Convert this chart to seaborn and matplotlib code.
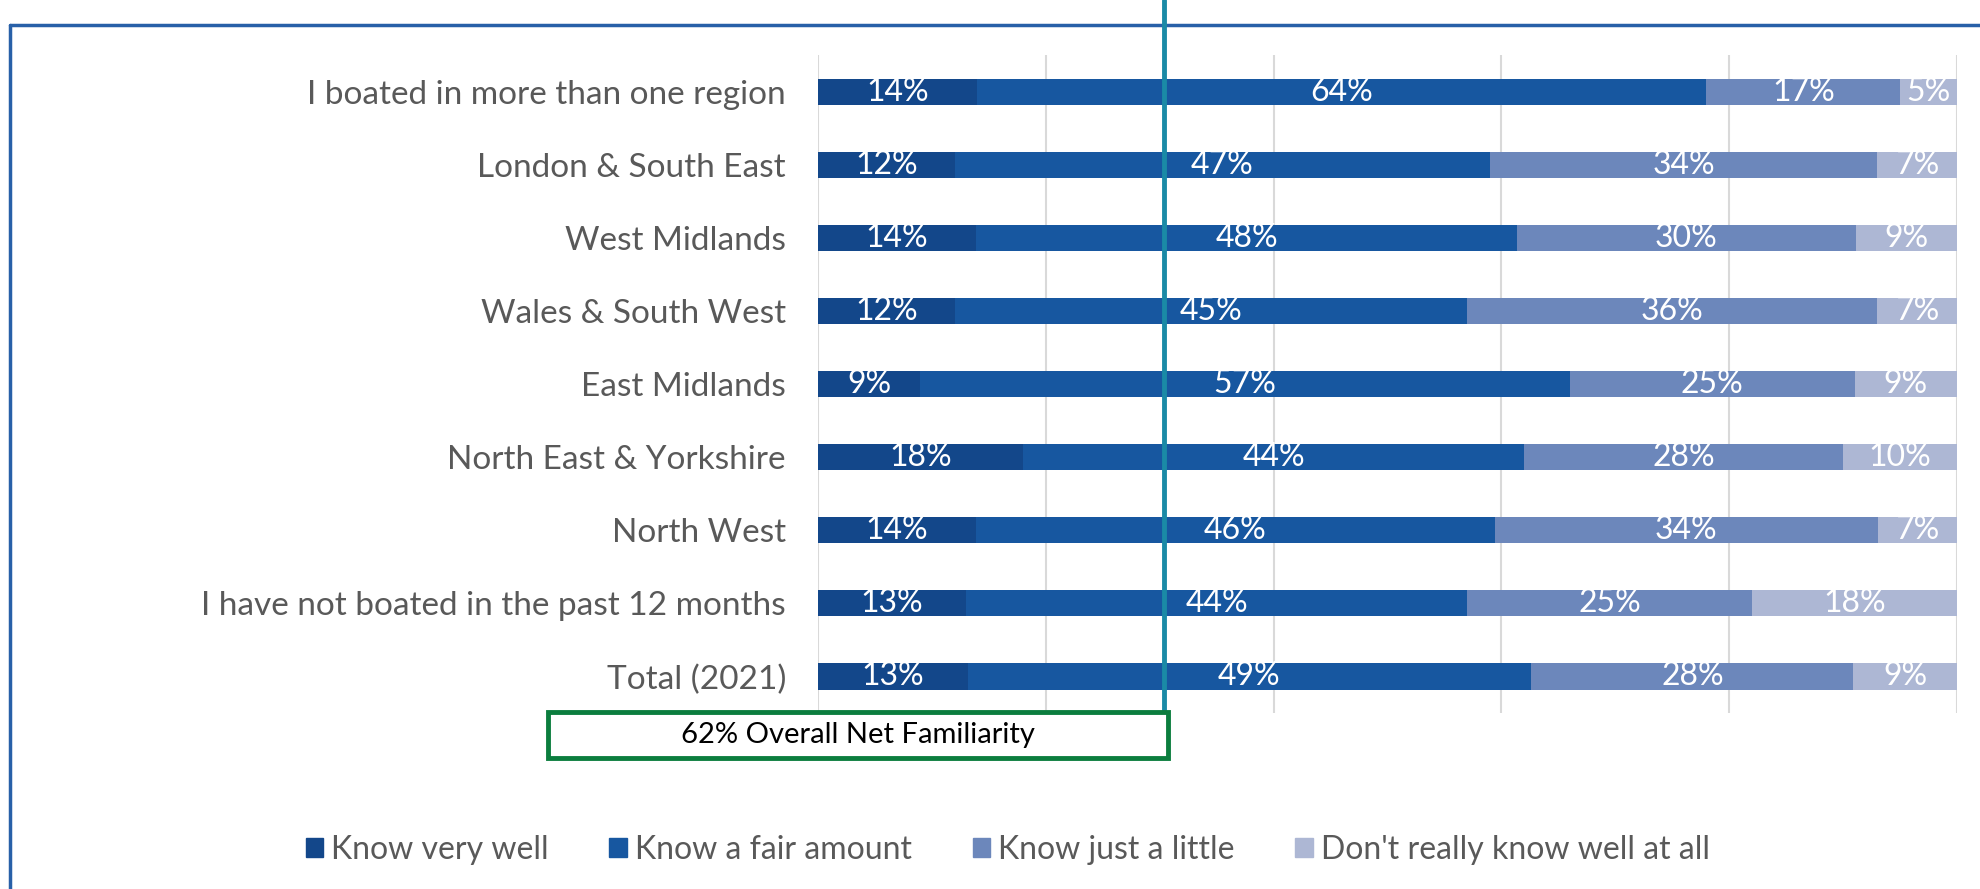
import numpy as np
import pandas as pd
import matplotlib
matplotlib.use("Agg")
import matplotlib.pyplot as plt
import seaborn as sns
from matplotlib.lines import Line2D
from matplotlib.patches import Rectangle

categories = [
    "I boated in more than one region",
    "London & South East",
    "West Midlands",
    "Wales & South West",
    "East Midlands",
    "North East & Yorkshire",
    "North West",
    "I have not boated in the past 12 months",
    "Total (2021)",
]
know_very_well = [14, 12, 14, 12, 9, 18, 14, 13, 13]
know_fair_amount = [64, 47, 48, 45, 57, 44, 46, 44, 49]
know_just_little = [17, 34, 30, 36, 25, 28, 34, 25, 28]
dont_know = [5, 7, 9, 7, 9, 10, 7, 18, 9]
series_names = ["Know very well", "Know a fair amount", "Know just a little",
                "Don't really know well at all"]
colors = ["#13478a", "#1757a0", "#6c87bb", "#adb7d4"]
net_familiarity_label = "62% Overall Net Familiarity"

sns.set_theme(style="white")
plt.rcParams['font.family'] = ['Lato', 'DejaVu Sans']

vals = np.array([know_very_well, know_fair_amount, know_just_little, dont_know], dtype=float)
norm = vals / vals.sum(axis=0) * 100
cum = np.cumsum(norm, axis=0)

fig = plt.figure(figsize=(19.8, 8.89), dpi=100)
ax = fig.add_axes([0.4131, 0.198, 0.5753, 0.740])

for i in range(3, -1, -1):
    df = pd.DataFrame({"cat": categories, "val": cum[i]})
    sns.barplot(data=df, x="val", y="cat", orient="h", color=colors[i],
                width=0.36, ax=ax, saturation=1, order=categories,
                edgecolor="none", linewidth=0, zorder=3)

for i in range(4):
    for j in range(len(categories)):
        left = cum[i][j] - norm[i][j]
        ax.text(left + norm[i][j] / 2, j, f"{int(vals[i][j])}%", ha="center",
                va="center", color="white", fontsize=23, zorder=5)

ax.set_xlim(0, 100)
ax.set_ylim(8.5, -0.5)
ax.set_xticks([0, 20, 40, 60, 80, 100])
ax.set_xticklabels([])
ax.grid(axis="x", color="#d9d9d9", linewidth=1.5, zorder=0)
ax.grid(axis="y", visible=False)
ax.set_axisbelow(True)
for s in ax.spines.values():
    s.set_visible(False)
ax.set_xlabel("")
ax.set_ylabel("")
ax.tick_params(axis="y", length=0, pad=23, labelsize=24, labelcolor="#595959")
ax.tick_params(axis="x", length=0)

# legend
handles = [Rectangle((0, 0), 1, 1, color=c) for c in colors]
fig.legend(handles, series_names, loc="center", bbox_to_anchor=(0.509, 0.044),
           ncol=4, frameon=False, fontsize=23, labelcolor="#595959",
           handlelength=0.55, handleheight=0.55, handletextpad=0.25, columnspacing=1.9)

# frame lines
fig.add_artist(Line2D([0.005, 1.0], [0.972, 0.972], color="#2860a8", lw=2.5))
fig.add_artist(Line2D([0.005, 0.005], [0.972, 0.0], color="#2860a8", lw=2.5))

# teal marker line
xline = 0.4131 + 0.304 * 0.5753
fig.add_artist(Line2D([xline, xline], [1.0, 0.199], color="#1a8aa6", lw=3.5, zorder=10))

# net familiarity box
fig.add_artist(Rectangle((0.2768, 0.1474), 0.5899 - 0.2768, 0.199 - 0.1474,
                         facecolor="white", edgecolor="#0b7d3e", lw=3.5, zorder=11))
fig.text((0.2768 + 0.5899) / 2, 0.1732, net_familiarity_label, ha="center", va="center",
         fontsize=21, color="black", zorder=12)

fig.savefig("out.png", dpi=100)
